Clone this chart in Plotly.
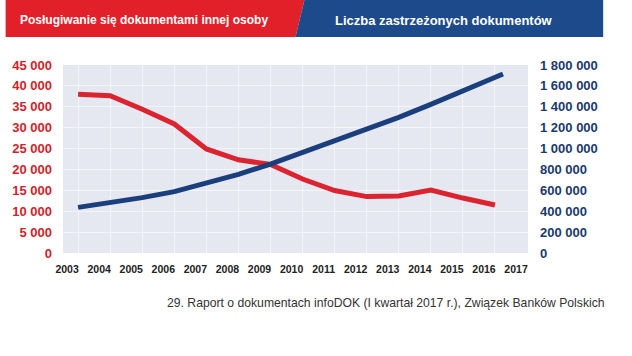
import plotly.graph_objects as go

# ---- data ----
years_red = [2003, 2004, 2005, 2006, 2007, 2008, 2009, 2010, 2011, 2012, 2013, 2014, 2015, 2016]
red_values = [38000, 37650, 34400, 30900, 24900, 22300, 21200, 17700, 14950, 13500, 13650, 15050, 13150, 11500]

years_blue = [2003, 2004, 2005, 2006, 2007, 2008, 2009, 2010, 2011, 2012, 2013, 2014, 2015, 2016, 2016.25]
blue_values = [437000, 482000, 530000, 588000, 667000, 753000, 852000, 961000, 1070000, 1187000,
               1299000, 1423000, 1554000, 1688000, 1714000]

x_ticks = list(range(2003, 2018))

title_red = "Posługiwanie się dokumentami innej osoby"
title_blue = "Liczba zastrzeżonych dokumentów"
source = "29. Raport o dokumentach infoDOK (I kwartał 2017 r.), Związek Banków Polskich"

# ---- style ----
W, H = 632, 356
L, R, T, B = 58, 528, 65, 253
RED_HDR = "#e2202a"
BLUE_HDR = "#1d4a8a"
RED_LINE = "#dc2430"
BLUE_LINE = "#1b3f7c"
RED_TXT = "#d21f2a"
BLUE_TXT = "#1a3a6c"
FONT = "Liberation Sans, Arial, sans-serif"


def px(x):
    return (x - L) / (R - L)


def py(y):
    return (B - y) / (B - T)


fig = go.Figure()
fig.add_trace(go.Scatter(x=years_red, y=red_values, mode="lines",
                         line=dict(color=RED_LINE, width=5), yaxis="y", hoverinfo="skip"))
fig.add_trace(go.Scatter(x=years_blue, y=blue_values, mode="lines",
                         line=dict(color=BLUE_LINE, width=5), yaxis="y2", hoverinfo="skip"))

shapes = [
    dict(type="path", xref="paper", yref="paper",
         path=f"M {px(0)} {py(0)} L {px(302)} {py(0)} L {px(293)} {py(37)} L {px(0)} {py(37)} Z",
         fillcolor=RED_HDR, line=dict(width=0), layer="above"),
    dict(type="path", xref="paper", yref="paper",
         path=f"M {px(302)} {py(0)} L {px(604)} {py(0)} L {px(604)} {py(37)} L {px(293)} {py(37)} Z",
         fillcolor=BLUE_HDR, line=dict(width=0), layer="above"),
]

annotations = [
    dict(text=f"<b>{title_red}</b>", xref="paper", yref="paper", x=px(13), y=py(20),
         xanchor="left", yanchor="middle", showarrow=False,
         font=dict(family=FONT, size=12, color="white")),
    dict(text=f"<b>{title_blue}</b>", xref="paper", yref="paper", x=px(331), y=py(20),
         xanchor="left", yanchor="middle", showarrow=False,
         font=dict(family=FONT, size=13, color="white")),
    dict(text=source, xref="paper", yref="paper", x=px(608), y=py(303),
         xanchor="right", yanchor="middle", showarrow=False,
         font=dict(family=FONT, size=12.2, color="#333333")),
]

fig.update_layout(
    width=W, height=H,
    margin=dict(l=L, r=W - R, t=T, b=H - B, pad=0),
    paper_bgcolor="white",
    plot_bgcolor="#e6e8f1",
    showlegend=False,
    separators=". ",
    shapes=shapes,
    annotations=annotations,
    xaxis=dict(range=[2002.53, 2017.03], tickvals=x_ticks, showgrid=True,
               gridcolor="#f4f5f9", gridwidth=1, zeroline=False, showline=False,
               ticks="", ticklabelshift=-11, ticklabelstandoff=8,
               tickfont=dict(family=FONT, size=10.5, color="#222222", weight="bold")),
    yaxis=dict(range=[0, 45000], dtick=5000, tickformat=",d", showgrid=True,
               gridcolor="#f4f5f9", gridwidth=1, zeroline=False, showline=False,
               ticks="", ticklabelstandoff=10,
               tickfont=dict(family=FONT, size=13, color=RED_TXT, weight="bold")),
    yaxis2=dict(range=[0, 1800000], dtick=200000, tickformat=",d", overlaying="y",
                side="right", showgrid=False, zeroline=False, showline=False,
                ticks="", ticklabelstandoff=11,
                tickfont=dict(family=FONT, size=13, color=BLUE_TXT, weight="bold")),
)

fig.write_html("out.html", post_script="document.body.style.margin='0';",
               config={"displayModeBar": False})
